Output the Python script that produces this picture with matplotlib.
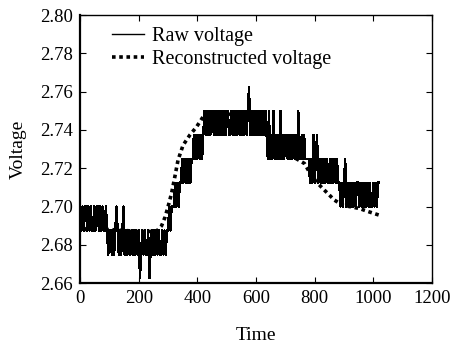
import numpy as np
import matplotlib
matplotlib.use('Agg')
import matplotlib.pyplot as plt

plt.rcParams['font.family'] = 'Liberation Serif'
plt.rcParams['mathtext.fontset'] = 'stix'

# ADC levels (V) and the raw samples as level indices, one sample every 4 time units
levels = [2.6625, 2.675, 2.6875, 2.70, 2.7125, 2.725, 2.7375, 2.75, 2.7625]
dt = 4
raw_idx = (
    "32323323232232332323223"
    "2122121232"
    "1212312121" "1212121201" "2121120121" "212121121212"
    "23233"
    "3434344"
    "5454545455"
    "656565656"
    "7676767767" "6767676767" "7667676767" "6767676786" "7676767676767"
    "6575657565" "6575656656" "565656575565"
    "6555545"
    "4645645454" "5454454545" "45443"
    "4345343434" "3434434343" "4343433434344"
)

# reconstructed voltage
rec_t = [0, 6, 20, 100, 200, 260, 278, 290, 300, 312, 323, 334, 351, 374, 397,
         419, 436, 470, 520, 578, 600, 612, 629, 657, 691, 737, 765, 782, 805,
         827, 850, 867, 895, 952, 986, 1020]
rec_v = [2.700, 2.692, 2.688, 2.688, 2.687, 2.687, 2.690, 2.6946, 2.700, 2.707,
         2.7155, 2.7243, 2.732, 2.7373, 2.7416, 2.7468, 2.749, 2.749, 2.748,
         2.746, 2.7445, 2.7425, 2.737, 2.734, 2.732, 2.725, 2.7225, 2.718, 2.713,
         2.7095, 2.706, 2.7034, 2.7007, 2.699, 2.6972, 2.6955]

raw_v = [levels[int(c)] for c in raw_idx]
raw_t = np.arange(len(raw_v)) * dt

fig = plt.figure(figsize=(4.5, 3.44), dpi=100)
ax = fig.add_axes([0.178, 0.177, 0.782, 0.779])

ax.plot(raw_t, raw_v, color='black', lw=1.0, antialiased=False,
        label='Raw voltage')
ax.plot(rec_t, rec_v, color='black', lw=2.6, ls=(0, (1, 1)),
        label='Reconstructed voltage')

ax.set_xlim(0, 1200)
ax.set_ylim(2.66, 2.80)
ax.set_xticks(np.arange(0, 1201, 200))
ax.set_yticks(np.arange(2.66, 2.801, 0.02))
ax.set_yticklabels(['%.2f' % v for v in np.arange(2.66, 2.801, 0.02)])
ax.tick_params(direction='in', top=True, right=True, length=4, labelsize=13.5,
               pad=5)

for s in ax.spines.values():
    s.set_linewidth(1.0)
ax.spines['bottom'].set_linewidth(1.6)
ax.spines['left'].set_linewidth(1.6)

ax.set_xlabel('Time', fontsize=14, labelpad=14)
ax.set_ylabel('Voltage', fontsize=14, labelpad=10)

ax.legend(loc='upper left', frameon=False, fontsize=14.5, handlelength=1.6,
          borderaxespad=0.2, bbox_to_anchor=(0.055, 1.0), labelspacing=0.2,
          handletextpad=0.4)

fig.savefig('out.png', dpi=100)
